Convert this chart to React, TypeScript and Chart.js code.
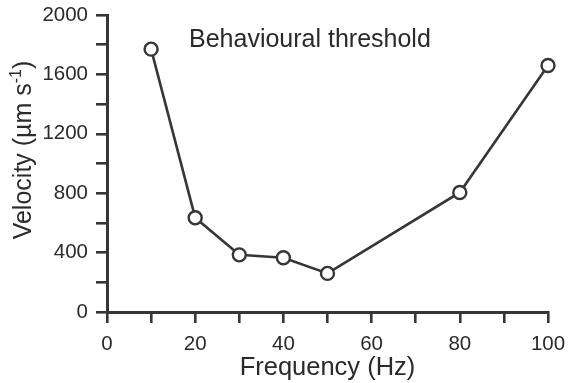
import React, { useEffect, useRef } from "react";
import { Chart, registerables } from "chart.js";

Chart.register(...registerables);

const frequencies = [10, 20, 30, 40, 50, 80, 100];
const velocities = [1770, 635, 385, 365, 260, 805, 1660];
const annotationText = "Behavioural threshold";
const xTitle = "Frequency (Hz)";
const yTitleMain = "Velocity (µm s";
const yTitleSup = "-1";
const yTitleEnd = ")";

const INK = "#363636";
const TEXT = "#2a2a2a";
const FONT = "'Liberation Sans', Arial, sans-serif";

const textPlugin = {
  id: "textPlugin",
  afterDraw(chart: any) {
    const ctx = chart.ctx;
    const area = chart.chartArea;
    ctx.save();
    ctx.fillStyle = TEXT;
    ctx.font = `25px ${FONT}`;
    ctx.textAlign = "left";
    ctx.textBaseline = "alphabetic";
    ctx.fillText(annotationText, area.left + 82, area.top + 32);
    ctx.restore();

    ctx.save();
    ctx.fillStyle = TEXT;
    ctx.translate(24, 150);
    ctx.rotate(-Math.PI / 2);
    ctx.textBaseline = "middle";
    ctx.textAlign = "left";
    ctx.font = `25px ${FONT}`;
    const w1 = ctx.measureText(yTitleMain).width;
    const w3 = ctx.measureText(yTitleEnd).width;
    ctx.font = `16px ${FONT}`;
    const w2 = ctx.measureText(yTitleSup).width;
    const total = w1 + w2 + w3;
    let x = -total / 2;
    ctx.font = `25px ${FONT}`;
    ctx.fillText(yTitleMain, x, 0);
    x += w1;
    ctx.font = `16px ${FONT}`;
    ctx.fillText(yTitleSup, x, -7);
    x += w2;
    ctx.font = `25px ${FONT}`;
    ctx.fillText(yTitleEnd, x, 0);
    ctx.restore();
  },
};

export default function App() {
  const ref = useRef<HTMLCanvasElement | null>(null);
  useEffect(() => {
    if (!ref.current) return;
    const chart = new Chart(ref.current, {
      type: "line",
      data: {
        datasets: [
          {
            data: frequencies.map((f, i) => ({ x: f, y: velocities[i] })),
            borderColor: INK,
            borderWidth: 2.6,
            pointRadius: 6.5,
            pointBorderWidth: 2.4,
            pointBackgroundColor: "#ffffff",
            pointBorderColor: INK,
            fill: false,
            tension: 0,
            clip: false as any,
          },
        ],
      },
      options: {
        animation: false,
        responsive: true,
        maintainAspectRatio: false,
        layout: { padding: { top: 15, right: 23, left: 0, bottom: 0 } },
        plugins: {
          legend: { display: false },
          tooltip: { enabled: false },
          title: { display: false },
        },
        scales: {
          x: {
            type: "linear",
            min: 0,
            max: 100,
            afterFit: (s: any) => {
              s.height = 71;
              s.paddingLeft = 0;
              s.paddingRight = 0;
            },
            ticks: {
              stepSize: 10,
              autoSkip: false,
              maxRotation: 0,
              padding: 9,
              color: TEXT,
              font: { family: FONT, size: 20.5 },
              callback: (v: any) => (Number(v) % 20 === 0 ? String(v) : ""),
            },
            grid: {
              drawOnChartArea: false,
              drawTicks: true,
              tickLength: 11,
              color: INK,
              lineWidth: 2.6,
            },
            border: { display: true, color: INK, width: 3 },
            title: {
              display: true,
              text: xTitle,
              color: TEXT,
              font: { family: FONT, size: 25.5 },
              padding: { top: 0, bottom: 0 },
            },
          },
          y: {
            type: "linear",
            min: 0,
            max: 2000,
            afterFit: (s: any) => {
              s.width = 107;
              s.paddingTop = 0;
              s.paddingBottom = 0;
            },
            ticks: {
              stepSize: 200,
              autoSkip: false,
              padding: 8,
              color: TEXT,
              font: { family: FONT, size: 20.5 },
              callback: (v: any) => (Number(v) % 400 === 0 ? String(v) : ""),
            },
            grid: {
              drawOnChartArea: false,
              drawTicks: true,
              tickLength: 11,
              color: INK,
              lineWidth: 2.6,
            },
            border: { display: true, color: INK, width: 3 },
          },
        },
      },
      plugins: [textPlugin],
    });
    return () => chart.destroy();
  }, []);
  return (
    <div style={{ position: "absolute", left: 0, top: 0, width: 571, height: 383, background: "#fff" }}>
      <canvas ref={ref} />
    </div>
  );
}
